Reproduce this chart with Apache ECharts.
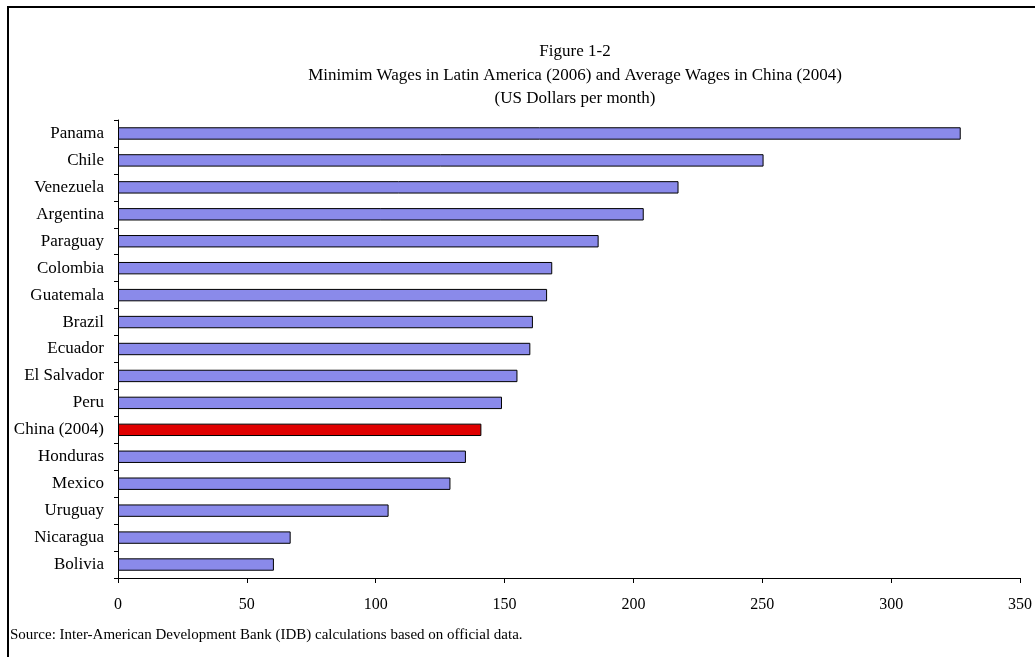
<!DOCTYPE html>
<html><head><meta charset="utf-8">
<script src="https://cdn.jsdelivr.net/npm/echarts@6/dist/echarts.min.js"></script>
<style>html,body{margin:0;padding:0;background:#fff}#c{width:1035px;height:657px}</style>
</head><body><div id="c"></div>
<script>
const categories = ["Panama","Chile","Venezuela","Argentina","Paraguay","Colombia","Guatemala","Brazil","Ecuador","El Salvador","Peru","China (2004)","Honduras","Mexico","Uruguay","Nicaragua","Bolivia"];
const values = [327,250.5,217.5,204,186.5,168.5,166.5,161,160,155,149,141,135,129,105,67,60.5];
const highlight = "China (2004)";
const xTicks = [0,50,100,150,200,250,300,350];

const font = "Liberation Serif";
const chart = echarts.init(document.getElementById('c'));
chart.setOption({
  animation:false,
  textStyle:{fontFamily:font},
  title:{
    text:"Figure 1-2\nMinimim Wages in Latin America (2006) and Average Wages in China (2004)\n(US Dollars per month)",
    left:570, top:35, textAlign:'center',
    textStyle:{fontFamily:font,fontWeight:'normal',fontSize:17,color:'#000',lineHeight:23.5}
  },
  graphic:[
    {type:'rect',shape:{x:8,y:7,width:1100,height:700},style:{fill:'none',stroke:'#000',lineWidth:2}},
    {type:'text',left:10,top:628,style:{text:"Source: Inter-American Development Bank (IDB) calculations based on official data.",font:"15px 'Liberation Serif'",fill:'#000'}}
  ],
  grid:{left:118,right:15,top:120,bottom:79},
  xAxis:{type:'value',min:xTicks[0],max:xTicks[xTicks.length-1],interval:50,
    axisLine:{show:true,lineStyle:{color:'#000',width:1}},
    axisTick:{show:true,length:5,lineStyle:{color:'#000'}},
    axisLabel:{fontFamily:font,fontSize:16,color:'#000',margin:19},
    splitLine:{show:false}},
  yAxis:{type:'category',data:categories,inverse:true,
    axisLine:{lineStyle:{color:'#000'}},
    axisTick:{show:true,length:4,lineStyle:{color:'#000'}},
    axisLabel:{fontFamily:font,fontSize:17,color:'#000',margin:14},
    splitLine:{show:false}},
  series:[{type:'bar',barWidth:'46%',
    data:values.map((v,i)=>({value:v,itemStyle:{color:categories[i]===highlight?'#e00000':'#8a8aea'}})),
    itemStyle:{borderColor:'#000',borderWidth:1}}]
});
</script></body></html>
